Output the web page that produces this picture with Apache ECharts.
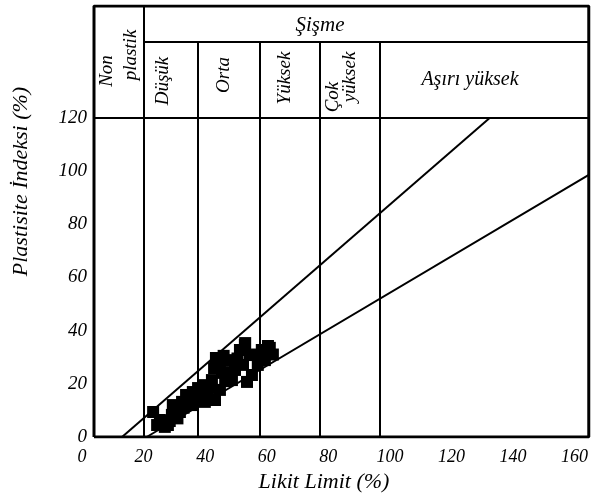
<!DOCTYPE html>
<html>
<head>
<meta charset="utf-8">
<script src="https://cdn.jsdelivr.net/npm/echarts@6/dist/echarts.min.js"></script>
<style>
  html, body { margin: 0; padding: 0; background: #fff; }
  #chart { width: 597px; height: 499px; }
</style>
</head>
<body>
<div id="chart"></div>
<script>
// ---- data ----
const xTickValues = [0, 20, 40, 60, 80, 100, 120, 140, 160];
const yTickValues = [0, 20, 40, 60, 80, 100, 120];
// swelling class boundaries on Likit Limit (%)
const swellBounds = [20, 37.7, 57.8, 77.2, 96.8];
const classTop = 120;      // PI level of class header bottom
const headerMid = 148.5;   // PI level of "Şişme" row bottom
const frameLeft = 3.9, frameRight = 164.6, frameTop = 162;
// two reference lines
const upperLine = [[13, 0], [132.5, 120]];
const lowerLine = [[21, 0], [164.6, 98.5]];
// samples: Likit Limit (%) and Plastisite İndeksi (%)
const sampleLL = [23.1, 25.3, 27.9, 26.9, 24.4, 29.2, 30.2, 32.5, 34.4, 31.8, 35.7, 36.0, 37.7, 33.8,
  39.9, 42.2, 40.9, 43.2, 44.8, 39.9, 45.5, 43.5, 44.8, 42.9, 48.1, 49.7, 48.7, 52.9, 54.5, 52.3,
  55.2, 53.6, 58.4, 61.0, 59.4, 57.1, 51.3, 47.4, 53.0, 60.4,
  28.5, 31.0, 33.0, 38.5, 41.5, 46.5, 50.5, 56.0, 62.0, 29.5, 35.0, 46.0];
const samplePI = [9.4, 6.4, 4.5, 3.8, 4.5, 8.3, 10.9, 13.2, 15.0, 9.4, 12.0, 16.9, 18.4, 15.8,
  19.5, 21.4, 15.8, 13.9, 17.7, 13.2, 24.1, 29.7, 27.1, 25.9, 28.9, 25.2, 21.4, 34.6, 30.8, 27.1,
  23.3, 20.7, 32.7, 33.5, 28.9, 27.1, 32.7, 24.4, 35.3, 34.2,
  6.0, 7.0, 11.0, 14.5, 18.5, 21.0, 29.5, 31.0, 31.0, 12.0, 14.0, 30.5];

const samples = sampleLL.map((v, i) => [v, samplePI[i]]);
const FONT = '"Liberation Serif", "DejaVu Serif", serif';

const chart = echarts.init(document.getElementById('chart'));

const structLines = [];
swellBounds.forEach((b, i) => {
  structLines.push([{ coord: [b, 0] }, { coord: [b, i === 0 ? frameTop : headerMid] }]);
});
structLines.push([{ coord: [frameLeft, classTop] }, { coord: [frameRight, classTop] }]);
structLines.push([{ coord: [swellBounds[0], headerMid] }, { coord: [frameRight, headerMid] }]);

function hdr(text, x, y, rot, size) {
  return {
    type: 'text', x: x, y: y, rotation: rot ? Math.PI / 2 : 0, z: 100,
    style: { text: text, fill: '#000', font: 'italic ' + (size || 19) + 'px ' + FONT,
      textAlign: 'center', textVerticalAlign: 'middle' }
  };
}

chart.setOption({
  animation: false,
  backgroundColor: '#fff',
  grid: { left: 82, right: 7, top: 6, bottom: 62 },
  xAxis: {
    type: 'value', min: 0, max: 165, interval: 20,
    name: 'Likit Limit (%)', nameLocation: 'middle', nameGap: 33,
    nameTextStyle: { fontFamily: FONT, fontStyle: 'italic', fontSize: 22, color: '#000', padding: [0, 24, 0, 0] },
    axisLine: { show: false }, axisTick: { show: false }, splitLine: { show: false },
    axisLabel: { margin: 11, fontFamily: FONT, fontStyle: 'italic', fontSize: 18, color: '#000',
      showMaxLabel: false,
      formatter: v => (xTickValues.indexOf(v) >= 0 ? String(v) : '') }
  },
  yAxis: {
    type: 'value', min: 0, max: 162, interval: 20, offset: -12,
    name: 'Plastisite İndeksi (%)', nameLocation: 'middle', nameGap: 62, nameRotate: 90,
    nameTextStyle: { fontFamily: FONT, fontStyle: 'italic', fontSize: 22, color: '#000', padding: [0, 0, 0, 80] },
    axisLine: { show: false }, axisTick: { show: false }, splitLine: { show: false },
    axisLabel: { margin: 7, fontFamily: FONT, fontStyle: 'italic', fontSize: 19, color: '#000',
      showMaxLabel: false,
      formatter: v => (yTickValues.indexOf(v) >= 0 ? String(v) : '') }
  },
  series: [
    {
      type: 'line', name: 'frame', symbol: 'none', silent: true,
      data: [[frameLeft, 0], [frameRight, 0], [frameRight, frameTop], [frameLeft, frameTop], [frameLeft, 0]],
      lineStyle: { color: '#000', width: 3 },
      markLine: {
        silent: true, symbol: 'none', label: { show: false },
        lineStyle: { color: '#000', width: 2, type: 'solid' },
        data: structLines
      }
    },
    { type: 'line', name: 'upper', symbol: 'none', data: upperLine, lineStyle: { color: '#000', width: 2 } },
    { type: 'line', name: 'lower', symbol: 'none', data: lowerLine, lineStyle: { color: '#000', width: 2 } },
    { type: 'scatter', name: 'samples', symbol: 'rect', symbolSize: 12, data: samples,
      itemStyle: { color: '#000', opacity: 1 } }
  ],
  graphic: [
    hdr('Şişme', 320, 25, false, 21),
    hdr('Non', 107, 71, true),
    hdr('plastik', 131, 55, true),
    hdr('Düşük', 163, 81, true),
    hdr('Orta', 224, 75, true),
    hdr('Yüksek', 285, 78, true),
    hdr('Çok', 333, 97, true),
    hdr('yüksek', 350, 77, true),
    hdr('Aşırı yüksek', 470, 80, false, 20)
  ]
});
</script>
</body>
</html>
